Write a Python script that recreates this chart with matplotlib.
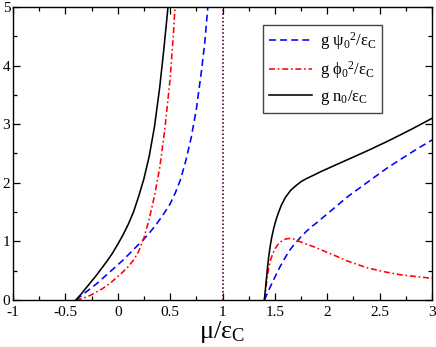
import matplotlib
matplotlib.use("Agg")
import matplotlib.pyplot as plt

plt.rcParams['font.family'] = ['Liberation Serif', 'DejaVu Serif']
plt.rcParams['mathtext.default'] = 'regular'
plt.rcParams['lines.scale_dashes'] = False

# ---- data ----
# left branch (mu/eps_C < 1)
n_left_x = [-0.40, -0.35, -0.30, -0.25, -0.20, -0.15, -0.10, -0.05, 0.00, 0.05, 0.10, 0.15,
            0.20, 0.25, 0.30, 0.35, 0.40, 0.44, 0.47, 0.485]
n_left_y = [0.00, 0.10, 0.21, 0.32, 0.43, 0.55, 0.67, 0.80, 0.95, 1.11, 1.29, 1.50,
            1.77, 2.07, 2.45, 2.95, 3.62, 4.28, 4.82, 5.10]

psi_left_x = [-0.40, -0.35, -0.30, -0.25, -0.20, -0.15, -0.10, -0.05, 0.00, 0.05, 0.10, 0.15,
              0.20, 0.25, 0.30, 0.35, 0.40, 0.45, 0.50, 0.55, 0.60, 0.65, 0.70, 0.75, 0.80, 0.83, 0.86]
psi_left_y = [0.00, 0.07, 0.14, 0.21, 0.28, 0.36, 0.44, 0.52, 0.60, 0.68, 0.77, 0.86,
              0.95, 1.04, 1.14, 1.25, 1.37, 1.50, 1.64, 1.83, 2.06, 2.38, 2.76, 3.25, 3.92, 4.38, 5.00]

phi_left_x = [-0.40, -0.35, -0.30, -0.25, -0.20, -0.15, -0.10, -0.05, 0.00, 0.05, 0.10, 0.15,
              0.20, 0.25, 0.30, 0.35, 0.40, 0.45, 0.50, 0.53, 0.55]
phi_left_y = [0.00, 0.02, 0.05, 0.09, 0.14, 0.19, 0.25, 0.32, 0.40, 0.48, 0.57, 0.68,
              0.83, 1.06, 1.38, 1.77, 2.25, 2.92, 3.78, 4.50, 5.10]

# right branch (mu/eps_C > 1.4)
n_right_x = [1.40, 1.41, 1.42, 1.43, 1.44, 1.45, 1.46, 1.47, 1.49, 1.51, 1.53, 1.56, 1.60, 1.65,
             1.70, 1.75, 1.80, 1.87, 1.95, 2.05, 2.15, 2.25, 2.40, 2.60, 2.80, 3.00]
n_right_y = [0.00, 0.19, 0.38, 0.56, 0.72, 0.85, 0.97, 1.07, 1.23, 1.36, 1.47, 1.61, 1.75, 1.87,
             1.95, 2.02, 2.07, 2.13, 2.20, 2.28, 2.36, 2.44, 2.56, 2.73, 2.91, 3.10]

psi_right_x = [1.40, 1.42, 1.45, 1.50, 1.55, 1.60, 1.65, 1.70, 1.75, 1.80, 1.85, 1.90, 2.00,
               2.10, 2.20, 2.30, 2.40, 2.50, 2.57, 2.70, 2.85, 3.00]
psi_right_y = [0.00, 0.08, 0.20, 0.39, 0.57, 0.73, 0.87, 0.98, 1.08, 1.17, 1.25, 1.32, 1.47,
               1.62, 1.77, 1.90, 2.03, 2.16, 2.25, 2.40, 2.57, 2.73]

phi_right_x = [1.40, 1.41, 1.42, 1.43, 1.44, 1.46, 1.48, 1.50, 1.53, 1.56, 1.60, 1.64, 1.68,
               1.72, 1.79, 1.87, 1.95, 2.07, 2.20, 2.38, 2.55, 2.70, 2.85, 3.00]
phi_right_y = [0.00, 0.15, 0.29, 0.42, 0.54, 0.69, 0.79, 0.87, 0.95, 1.00, 1.04, 1.05, 1.04,
               1.01, 0.96, 0.91, 0.85, 0.76, 0.66, 0.55, 0.48, 0.43, 0.40, 0.37]

vline_x = 1.0

labels = ['g ψ$_0$$^2$/ε$_C$', 'g ϕ$_0$$^2$/ε$_C$', 'g n$_0$/ε$_C$']
xlabel = 'μ/ε$_C$'

xticks = [-1, -0.5, 0, 0.5, 1, 1.5, 2, 2.5, 3]
xticklabels = ['-1', '-0.5', '0', '0.5', '1', '1.5', '2', '2.5', '3']
yticks = [0, 1, 2, 3, 4, 5]

# ---- figure ----
fig = plt.figure(figsize=(4.36, 3.47), dpi=100)
ax = fig.add_axes([13/436, 47/347, 419/436, 293/347])

blue_dash = (0, (5.0, 3.0))
red_dd = (0, (4.3, 2.0, 1.2, 2.0))
lw = 1.15

l1, = ax.plot(psi_left_x, psi_left_y, color='#0000ff', lw=lw, linestyle=blue_dash)
ax.plot(psi_right_x, psi_right_y, color='#0000ff', lw=lw, linestyle=blue_dash)
l2, = ax.plot(phi_left_x, phi_left_y, color='#ff0000', lw=lw, linestyle=red_dd)
ax.plot(phi_right_x, phi_right_y, color='#ff0000', lw=lw, linestyle=red_dd)
l3, = ax.plot(n_left_x, n_left_y, color='black', lw=lw)
ax.plot(n_right_x, n_right_y, color='black', lw=lw)
ax.axvline(vline_x, color='#670748', lw=1.3, linestyle=(0, (1.1, 1.6)))

ax.set_xlim(-1, 3)
ax.set_ylim(0, 5)
ax.set_xticks(xticks)
ax.set_xticklabels(xticklabels)
ax.set_xticks([-0.75, -0.25, 0.25, 0.75, 1.25, 1.75, 2.25, 2.75], minor=True)
ax.set_yticks(yticks)
ax.set_yticks([0.5, 1.5, 2.5, 3.5, 4.5], minor=True)
ax.tick_params(which='both', direction='in', top=True, right=True, labelsize=11)
ax.tick_params(which='major', length=5, width=0.9)
ax.tick_params(which='minor', length=3, width=0.9)
ax.tick_params(axis='x', pad=4.3)
ax.tick_params(axis='y', pad=2)
for s in ax.spines.values():
    s.set_linewidth(1.0)

ax.set_xlabel(xlabel, fontsize=19, labelpad=0)

leg = ax.legend([l1, l2, l3], labels, loc='upper left', bbox_to_anchor=(0.597, 0.9386),
                borderaxespad=0, fontsize=12, fancybox=False, framealpha=1,
                edgecolor='#444444', handlelength=2.6, labelspacing=0.42,
                borderpad=0.33, handletextpad=0.5)
leg.get_frame().set_linewidth(1.0)

fig.savefig('out.png', dpi=100)
